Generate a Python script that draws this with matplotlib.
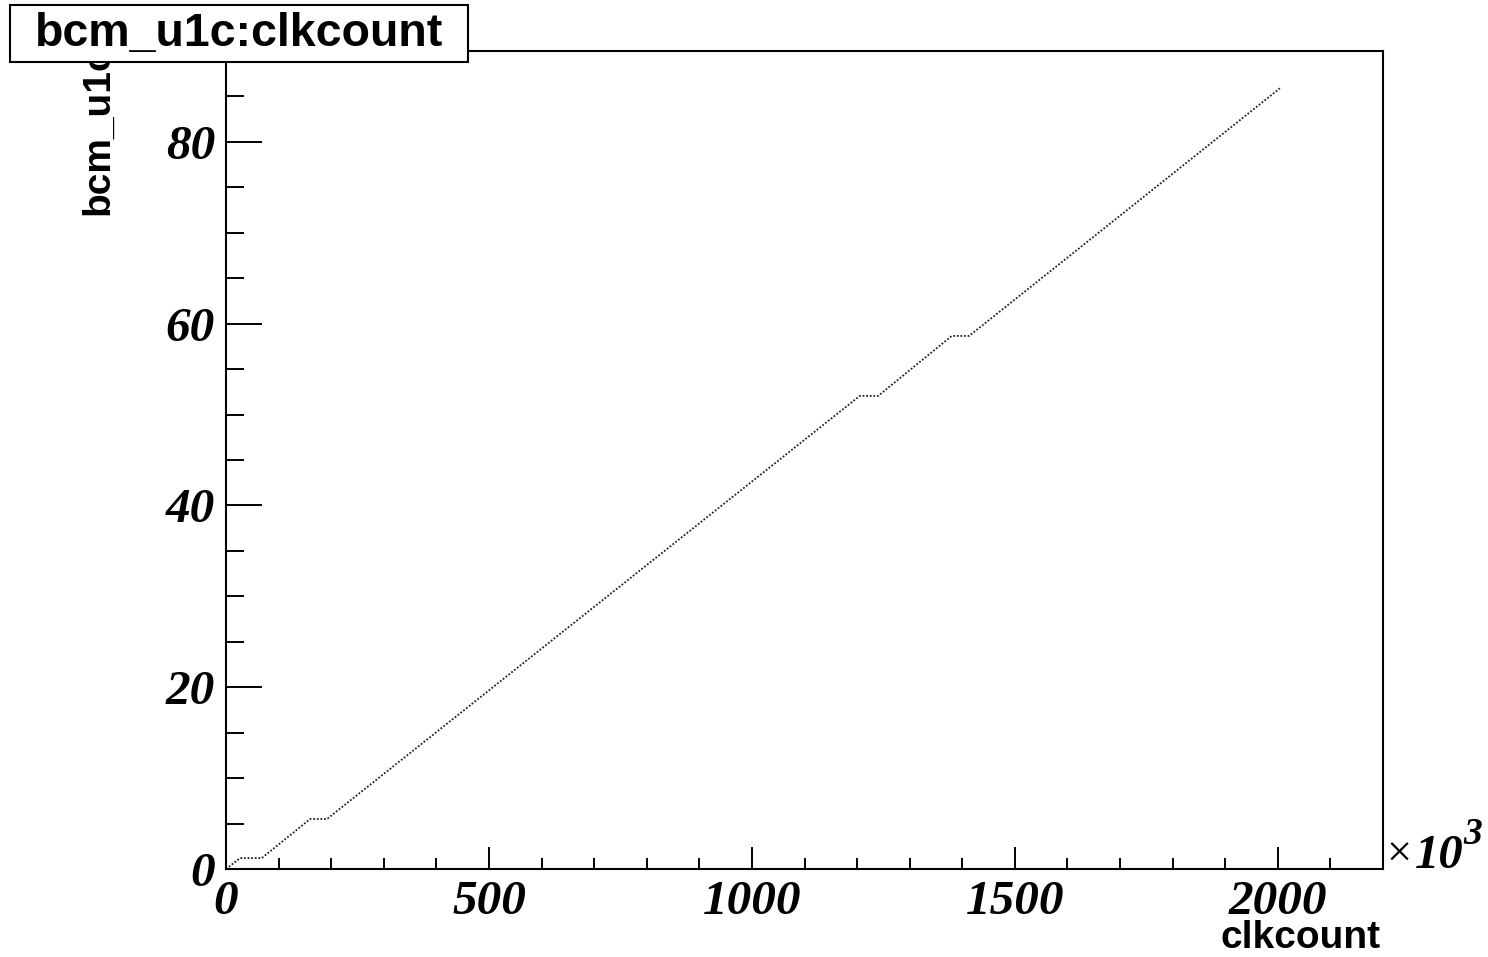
import matplotlib.pyplot as plt
from matplotlib.patches import Rectangle
from matplotlib.ticker import MultipleLocator

# breakpoints (clkcount in units of 10^3)
clk = [0, 27, 68, 160, 192, 1205, 1240, 1380, 1413, 2004]
bcm = [0, 1.2, 1.2, 5.5, 5.5, 52.05, 52.05, 58.65, 58.65, 85.9]

xticks = [0, 500, 1000, 1500, 2000]
yticks = [0, 20, 40, 60, 80]

W, H = 1488, 957
fig = plt.figure(figsize=(W / 100, H / 100), dpi=100)
ax = fig.add_axes([226 / W, 1 - 869 / H, (1383 - 226) / W, (869 - 51) / H])

ax.plot(clk, bcm, color='#222222', lw=1.3, ls=(0, (1, 1)))

ax.set_xlim(0, 2200)
ax.set_ylim(0, 90)
ax.set_xticks(xticks)
ax.set_yticks(yticks)
ax.xaxis.set_minor_locator(MultipleLocator(100))
ax.yaxis.set_minor_locator(MultipleLocator(5))

for s in ax.spines.values():
    s.set_linewidth(1.5)

tickfont = dict(family='Liberation Serif', weight='bold', style='italic', size=35.5)
ax.set_xticklabels([str(t) for t in xticks], fontdict=tickfont)
ax.set_yticklabels([str(t) for t in yticks], fontdict=tickfont)
ax.tick_params(axis='x', which='major', direction='in', length=16, width=1.4, pad=8)
ax.tick_params(axis='x', which='minor', direction='in', length=8, width=1.4)
ax.tick_params(axis='y', which='major', direction='in', length=26, width=1.4, pad=8)
ax.tick_params(axis='y', which='minor', direction='in', length=13, width=1.4)

# exponent next to x axis
fig.text(1386 / W, 1 - 867 / H, '\u00d7', family='Liberation Serif', size=32,
         ha='left', va='baseline')
fig.text(1415 / W, 1 - 868 / H, '10', family='Liberation Serif', weight='bold',
         style='italic', size=35, ha='left', va='baseline')
fig.text(1463 / W, 1 - 844 / H, '3', family='Liberation Serif', weight='bold',
         style='italic', size=27, ha='left', va='baseline')

fig.text(1381 / W, 1 - 948 / H, 'clkcount', family='Liberation Sans', weight='bold',
         size=28, ha='right', va='baseline')
fig.text(98 / W, 1 - 215 / H, 'bcm_u1c', family='Liberation Sans', weight='bold',
         size=28, rotation=90, ha='center', va='bottom', zorder=1)

# title box
fig.patches.append(Rectangle((10 / W, 1 - 62 / H), 458 / W, 57 / H,
                             transform=fig.transFigure, facecolor='white',
                             edgecolor='black', lw=1.5, zorder=5))
fig.text(239 / W, 1 - 46 / H, 'bcm_u1c:clkcount', family='Liberation Sans',
         weight='bold', size=33.5, ha='center', va='baseline', zorder=6)

fig.savefig('out.png', dpi=100)
